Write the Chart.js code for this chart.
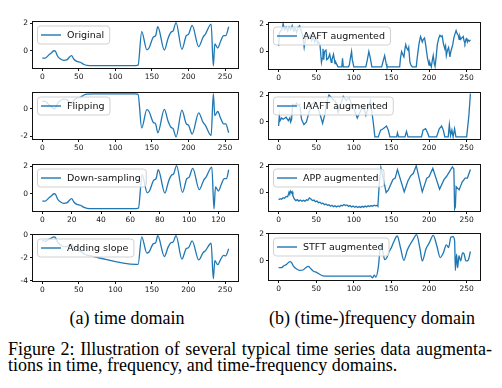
<!DOCTYPE html>
<html>
<head>
<meta charset="utf-8">
<script src="https://cdn.jsdelivr.net/npm/chart.js@4.4.1/dist/chart.umd.min.js"></script>
<style>
  body { margin: 0; background: #fff; width: 502px; height: 388px; overflow: hidden; position: relative; }
  canvas { position: absolute; }
  .cap { position: absolute; font-family: "Liberation Serif", serif; font-size: 18px; line-height: 18px; white-space: nowrap; color: #000; }
</style>
</head>
<body>
<div class="cap" style="left:27px; top:309px; width:200px; text-align:center;">(a) time domain</div>
<div class="cap" style="left:269px; top:309px; width:200px; text-align:center;">(b) (time-)frequency domain</div>
<div class="cap" style="left:8px; top:340px; width:484px; text-align:justify; text-align-last:justify;">Figure 2: Illustration of several typical time series data augmenta-</div>
<div class="cap" style="left:8px; top:355.6px;">tions in time, frequency, and time-frequency domains.</div>

<script>
// ---- data ----
const xTicks256 = [0, 50, 100, 150, 200, 250];
const xTicks128 = [0, 20, 40, 60, 80, 100, 120];

const origX = [0, 4, 9, 13, 16, 18, 21, 25, 29, 34, 36, 40, 43, 47, 52, 57, 61, 70, 128, 131, 136, 143, 146, 152, 155, 158, 167, 172, 176, 179, 183, 191, 197, 200, 205, 214, 220, 223, 231, 234, 236, 240, 244, 248, 251, 255];
const origY = [-0.53, -0.53, -0.3, -0.12, 0, -0.05, -0.4, -0.6, -0.7, -0.65, -0.53, -0.36, -0.6, -0.77, -0.84, -1.0, -1.06, -1.08, -1.08, -1.05, 1.4, 0.07, 0.2, 1.0, 1.1, 1.75, 0.05, 0.9, 1.35, 1.45, 2.05, 0.1, 1.1, 1.2, 1.85, 0.3, 1.0, 1.2, 1.95, -1.1, 0.5, 0.2, 0.7, 1.1, 1.1, 1.75];

const flipX = origX;
const flipY = [0.53, 0.53, 0.3, 0.12, 0, 0.05, 0.4, 0.6, 0.7, 0.65, 0.53, 0.36, 0.6, 0.77, 0.84, 1.0, 1.06, 1.08, 1.08, 1.05, -1.4, -0.07, -0.2, -1.0, -1.1, -1.75, -0.05, -0.9, -1.35, -1.45, -2.05, -0.1, -1.1, -1.2, -1.85, -0.3, -1.0, -1.2, -1.95, 1.1, -0.5, -0.2, -0.7, -1.1, -1.1, -1.75];

const downX = [0, 2, 4.5, 6.5, 8, 9, 10.5, 12.5, 14.5, 17, 18, 20, 21.5, 23.5, 26, 28.5, 30.5, 35, 64, 65.5, 68, 71.5, 73, 76, 77.5, 79, 83.5, 86, 88, 89.5, 91.5, 95.5, 98.5, 100, 102.5, 107, 110, 111.5, 115.5, 117, 118, 120, 122, 124, 125.5, 127];
const downY = origY;

const slopeX = origX;
const slopeY = [-0.53, -0.58, -0.41, -0.27, -0.19, -0.26, -0.65, -0.89, -1.04, -1.05, -0.95, -0.83, -1.1, -1.32, -1.45, -1.67, -1.77, -1.9, -2.58, -2.58, -0.19, -1.6, -1.51, -0.78, -0.71, -0.1, -1.9, -1.11, -0.71, -0.64, -0.09, -2.13, -1.2, -1.14, -0.55, -2.2, -1.57, -1.41, -0.75, -3.84, -2.26, -2.61, -2.15, -1.8, -1.84, -1.23];

const aaftX = [0, 1, 3, 5, 6, 8, 10, 12, 14, 16, 18, 20, 22, 24, 26, 28, 30, 32, 34, 36, 37, 39, 42, 44, 46, 48, 50, 52, 53, 55, 57, 58, 59, 60, 61, 63, 64, 66, 68, 70, 71, 73, 75, 76, 79, 84, 85, 86, 93, 94, 96, 97, 98, 100, 116, 118, 120, 122, 124, 137, 139, 141, 143, 144, 161, 162, 163.5, 165, 166.6, 168, 169, 170, 172, 173, 174.6, 176, 177.7, 183, 184, 186.5, 187.5, 188.7, 190, 191, 192.5, 194, 195.5, 196.7, 198, 200, 201, 203, 204.5, 205.6, 207, 208, 209.5, 211, 213, 214.5, 216, 217.5, 219, 221, 222, 223, 224.5, 226, 227, 227.7, 229, 230, 231.5, 233, 234.5, 236, 237.5, 238.8, 240, 241, 242, 243.5, 245.5, 246.5, 247.7, 249, 250, 251, 252, 253.5, 255];
const aaftY = [0.4, 1.4, 1.5, 1.7, 2.05, 1.6, 1.8, 1.5, 1.8, 1.6, 1.9, 1.5, 1.7, 1.4, 1.8, 1.9, 1.5, 1.2, 0.3, 1.0, 1.3, 0.9, 1.2, 0.8, 1.1, 0.7, 1.0, 0.6, 0.7, 0.5, -0.8, -0.5, 0.2, -0.6, 0.0, 0.1, -0.6, -0.5, -0.2, -0.8, -0.6, -0.2, -0.9, -0.8, -1.13, -1.13, -0.5, -1.13, -1.13, -1.0, -0.3, 0.0, -0.6, -1.13, -1.13, -0.6, 0.0, -0.5, -1.13, -1.13, -0.7, -0.3, -0.9, -1.13, -1.13, -0.5, 0.0, -0.2, -0.4, 0.2, 0.5, 0.3, 0.1, 0.3, -0.8, -1.0, -1.13, -1.13, -0.6, 0.5, 0.8, 1.1, 0.9, 0.7, 0.9, 1.0, 0.5, 0.0, -0.5, -1.0, -0.8, -1.13, -0.6, -0.3, -0.9, -1.1, -0.4, 0.5, 1.0, 1.2, 1.1, 1.15, 0.6, 0.2, 0.4, -0.3, 0.1, 0.3, -0.1, -0.4, 0.0, 0.2, 0.5, 1.0, 1.3, 1.55, 1.3, 1.2, 0.9, 1.1, 0.9, 1.0, 1.1, 0.8, 0.6, 0.9, 0.95, 0.7, 0.85, 0.75, 0.85];

const iaaftX = [0, 1, 2, 4, 6, 10, 13, 15, 16, 17.3, 18.6, 21.7, 24, 26, 28, 30.5, 33.7, 37, 40.8, 44, 48, 52.7, 57, 58.5, 61.6, 64.7, 67, 72, 76, 79, 82, 86, 90, 94, 97, 101.5, 104.6, 108, 112.5, 116, 119, 122, 125.8, 128, 132.5, 135.6, 139, 143.5, 145.8, 148, 157, 158, 159.5, 168, 170, 172, 190, 192, 195.4, 198, 200, 210, 213.6, 216.7, 219, 221, 225.5, 227, 228.6, 230.4, 232, 234, 235.7, 250, 253, 255];
const iaaftY = [-0.3, 0.5, 0.1, 0.3, 0.2, 0.35, 0.1, 0.3, 0.0, 0.2, 1.3, 1.2, 1.4, 1.2, 1.3, 0.2, -0.2, 0.0, 0.8, 1.3, 1.5, 1.0, 0.2, -0.1, 0.6, 1.6, 2.0, 1.7, 1.5, 0.7, 1.2, 1.9, 1.6, 1.8, 1.3, 0.8, 0.3, 0.7, 1.2, 0.5, 1.0, 1.6, 0.0, -1.1, -1.1, -0.6, -0.5, -0.3, -0.6, -1.1, -1.1, -0.8, -1.1, -1.1, -0.7, -1.1, -1.1, -0.6, -0.5, -0.8, -1.1, -1.1, -0.5, -0.3, -0.6, -1.1, -1.1, -0.2, -1.0, -0.6, -1.1, -0.5, -1.1, -1.1, 0.5, 2.1];

const appX = [0, 2, 4, 6, 8, 10, 12, 13, 14, 15, 16, 17, 18, 19, 21, 23, 25, 27, 29, 31, 33, 35, 37, 39, 41, 43, 45, 47, 49, 51, 53, 55, 57, 59, 61, 63, 65, 67, 69, 71, 73, 75, 77, 79, 81, 83, 85, 87, 89, 91, 93, 95, 97, 99, 101, 103, 105, 107, 109, 111, 113, 115, 117, 119, 121, 123, 125, 127, 129, 131, 132, 134, 136, 143, 146, 152, 155, 158, 167, 172, 176, 179, 183, 191, 197, 200, 205, 214, 220, 223, 231, 233, 234, 235, 236, 240, 244, 248, 251, 255];
const appY = [-0.55, -0.47, -0.52, -0.4, -0.44, -0.3, -0.33, -0.15, 0.05, -0.05, 0.1, -0.02, 0.05, -0.25, -0.5, -0.62, -0.55, -0.66, -0.58, -0.67, -0.6, -0.66, -0.56, -0.6, -0.42, -0.5, -0.62, -0.58, -0.7, -0.66, -0.78, -0.74, -0.86, -0.82, -0.93, -0.88, -0.98, -0.94, -1.05, -0.98, -1.08, -1.02, -1.1, -1.03, -1.08, -0.98, -1.02, -0.92, -1.0, -0.95, -1.06, -1.0, -1.1, -1.04, -1.13, -1.06, -1.15, -1.08, -1.14, -1.06, -1.12, -1.04, -1.1, -1.02, -1.08, -1.0, -1.05, -0.97, -1.02, -0.98, -1.05, 0.8, 1.9, 0.0, 0.2, 1.0, 1.1, 1.75, 0.05, 0.9, 1.3, 1.45, 2.05, 0.05, 1.1, 1.2, 1.85, 0.25, 1.0, 1.2, 1.95, 1.8, -1.25, -1.1, 0.45, 0.2, 0.8, 1.1, 1.1, 1.75];

const stftX = [0, 4, 6, 10.6, 15, 17, 20, 24, 28, 33, 36, 39.4, 42.5, 46, 50.5, 55, 59, 66, 119, 122, 125, 127, 129.4, 132.5, 136, 139, 141, 143.5, 147, 150, 153, 157.7, 162, 166.6, 171, 174.6, 179, 183.4, 188, 191, 196, 200, 205.6, 210, 215, 219, 223, 226, 229, 232, 234, 235, 236.6, 238, 239.8, 242, 244.6, 246.4, 249, 252, 255];
const stftY = [-0.5, -0.5, -0.4, -0.25, -0.05, -0.1, -0.4, -0.6, -0.7, -0.65, -0.5, -0.4, -0.55, -0.75, -0.85, -1.0, -1.1, -1.13, -1.13, -1.1, -1.25, -1.05, -1.2, -0.5, 1.3, 0.6, 0.1, 0.2, 0.7, 1.0, 1.4, 1.85, 1.0, 0.05, 0.8, 1.2, 1.6, 1.95, 0.9, 0.0, 0.9, 1.3, 1.9, 1.2, 0.25, 0.6, 1.2, 1.0, 1.75, 1.8, 1.5, -0.7, 0.5, -0.5, 0.4, 0.0, 0.6, 0.55, 0.0, 0.05, 0.7];

// ---- panels ----
const panels = [
  { label: 'Original', xs: origX, ys: origY, n: 255, xt: xTicks256, yt: [0, 2], col: 0, top: 19, smooth: true },
  { label: 'Flipping', xs: flipX, ys: flipY, n: 255, xt: xTicks256, yt: [-2, 0], col: 0, top: 90, smooth: true },
  { label: 'Down-sampling', xs: downX, ys: downY, n: 127, xt: xTicks128, yt: [0, 2], col: 0, top: 162, smooth: true },
  { label: 'Adding slope', xs: slopeX, ys: slopeY, n: 255, xt: xTicks256, yt: [-4, -2, 0], col: 0, top: 232, smooth: true },
  { label: 'AAFT augmented', xs: aaftX, ys: aaftY, n: 255, xt: xTicks256, yt: [0, 2], col: 1, top: 20, smooth: false },
  { label: 'IAAFT augmented', xs: iaaftX, ys: iaaftY, n: 255, xt: xTicks256, yt: [0, 2], col: 1, top: 90, smooth: false },
  { label: 'APP augmented', xs: appX, ys: appY, n: 255, xt: xTicks256, yt: [0, 2], col: 1, top: 162, smooth: false },
  { label: 'STFT augmented', xs: stftX, ys: stftY, n: 255, xt: xTicks256, yt: [0, 2], col: 1, top: 231, smooth: true },
];

const frame = {
  id: 'frame',
  afterDraw(chart) {
    const { ctx, chartArea: a } = chart;
    ctx.save();
    ctx.strokeStyle = '#111';
    ctx.lineWidth = 1;
    ctx.strokeRect(Math.round(a.left) - 0.5, Math.round(a.top) + 0.5, Math.round(a.right - a.left) + 1, Math.round(a.bottom - a.top) - 1);
    // legend box, matplotlib style
    const text = chart.data.datasets[0].label;
    ctx.font = '9.5px "DejaVu Sans"';
    const tw = ctx.measureText(text).width;
    const bx = a.left + 4, by = a.top + 5, bw = 30 + tw + 5, bh = 18;
    ctx.beginPath();
    ctx.roundRect(bx + 0.5, by + 0.5, bw, bh, 3);
    ctx.fillStyle = 'rgba(255,255,255,0.8)';
    ctx.fill();
    ctx.strokeStyle = 'rgba(204,204,204,0.9)';
    ctx.lineWidth = 1;
    ctx.stroke();
    ctx.beginPath();
    ctx.moveTo(bx + 4, by + 9.5);
    ctx.lineTo(bx + 24, by + 9.5);
    ctx.strokeStyle = '#1f77b4';
    ctx.lineWidth = 1.4;
    ctx.stroke();
    ctx.fillStyle = '#111';
    ctx.textBaseline = 'middle';
    ctx.fillText(text, bx + 30, by + 10);
    ctx.restore();
  }
};

panels.forEach((p) => {
  const cv = document.createElement('canvas');
  const left = p.col === 0 ? 0 : 240;
  const yw = p.col === 0 ? 33 : 29;
  const pr = p.col === 0 ? 7 : 5;
  cv.width = 245; cv.height = 70;
  cv.style.left = left + 'px';
  cv.style.top = (p.top - 5) + 'px';
  document.body.appendChild(cv);

  const lo = Math.min(...p.ys), hi = Math.max(...p.ys), pad = (hi - lo) * 0.05;
  const xpad = p.n * 0.05;
  const tickFont = { size: 7.5, family: 'DejaVu Sans' };

  new Chart(cv, {
    type: 'line',
    data: {
      datasets: [{
        label: p.label,
        data: p.xs.map((x, i) => ({ x, y: p.ys[i] })),
        borderColor: '#1f77b4', borderWidth: 1.3, pointRadius: 0, fill: false,
        tension: 0, cubicInterpolationMode: p.smooth ? 'monotone' : 'default',
      }],
    },
    options: {
      responsive: false, animation: false, events: [],
      layout: { padding: { top: 5, right: pr, left: 0, bottom: 0 } },
      plugins: { legend: { display: false }, tooltip: { enabled: false } },
      scales: {
        x: {
          type: 'linear', min: -xpad, max: p.n + xpad,
          afterBuildTicks: (ax) => { ax.ticks = p.xt.map((v) => ({ value: v })); },
          afterFit: (s) => { s.height = 16; },
          grid: { drawOnChartArea: false, tickLength: 3, color: '#111' },
          border: { display: false },
          ticks: { font: tickFont, color: '#111', padding: 1.5, maxRotation: 0 },
        },
        y: {
          type: 'linear', min: lo - pad, max: hi + pad,
          afterBuildTicks: (ax) => { ax.ticks = p.yt.map((v) => ({ value: v })); },
          afterFit: (s) => { s.width = yw; },
          grid: { drawOnChartArea: false, tickLength: 3, color: '#111' },
          border: { display: false },
          ticks: { font: tickFont, color: '#111', padding: 2 },
        },
      },
    },
    plugins: [frame],
  });
});
</script>
</body>
</html>
